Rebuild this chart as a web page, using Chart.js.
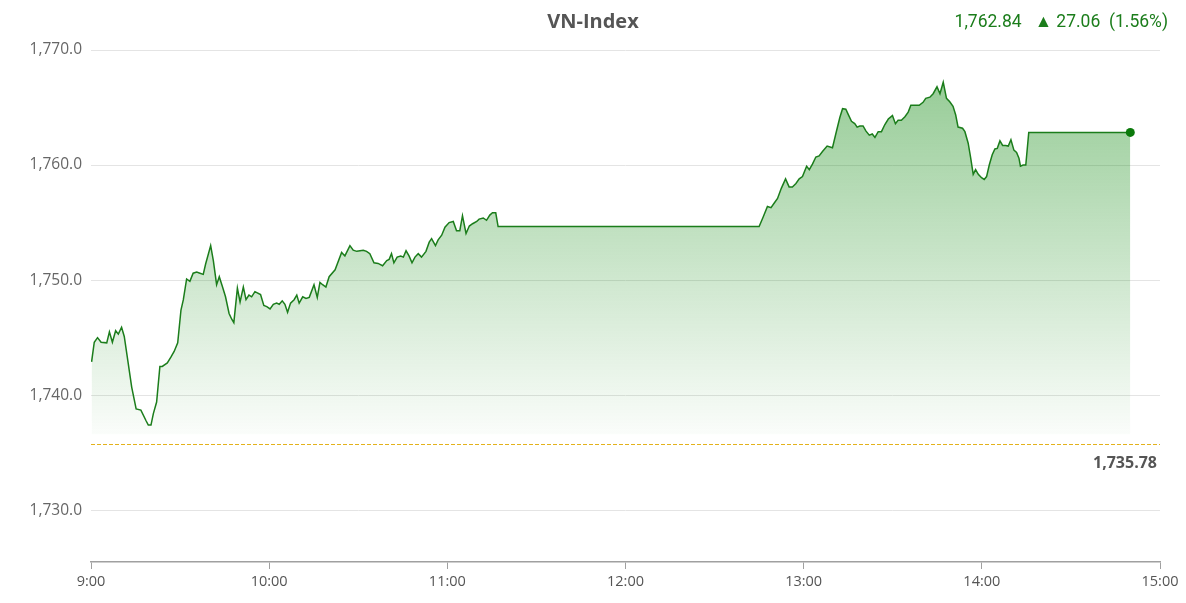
<!DOCTYPE html>
<html>
<head>
<meta charset="utf-8">
<title>VN-Index</title>
<script src="https://cdn.jsdelivr.net/npm/chart.js@4"></script>
<style>
  html, body { margin: 0; padding: 0; background: #fff; }
  #wrap { position: relative; width: 1186px; height: 603px; }
  #title {
    position: absolute; left: 0; width: 1186px; top: 7px; text-align: center;
    font: bold 20px "Open Sans", sans-serif; color: #555;
  }
  #stats {
    position: absolute; right: 18px; top: 11px;
    font: 17.5px Roboto, sans-serif; color: #1b7d1b; white-space: pre;
  }
</style>
</head>
<body>
<div id="wrap">
  <canvas id="chart" width="1186" height="603"></canvas>
  <div id="title">VN-Index</div>
  <div id="stats">1,762.84   ▲ 27.06  (1.56%)</div>
</div>
<script>
// minutes after 9:00
const minutes = [
  0.2, 1.1, 2.2, 3.4, 5.3, 6.2, 7.2, 8.3, 9.2, 10.3, 11.2, 12.4, 13.7, 15.2, 16.8,
  18.5, 19.3, 20.2, 21.0, 22.1, 23.2, 24.0, 25.7, 26.9, 28.0, 29.2, 30.3, 31.1, 32.2,
  33.3, 34.4, 35.6, 36.7, 37.8, 38.6, 40.3, 41.2, 42.3, 43.2, 44.3, 45.3, 46.5, 47.4,
  48.1, 49.3, 50.2, 51.3, 52.2, 53.2, 54.1, 55.2, 57.1, 58.2, 59.2, 60.3, 61.4, 62.5,
  63.4, 64.4, 65.3, 66.2, 67.2, 68.4, 69.3, 70.1, 71.3, 72.4, 73.5, 75.1, 76.2, 77.1,
  78.0, 79.1, 80.2, 82.2, 84.4, 85.5, 87.2, 88.3, 89.5, 90.6, 91.7, 92.8, 93.9, 95.3,
  96.7, 98.2, 99.6, 100.4, 101.2, 102.0, 103.1, 104.3, 105.2, 106.1, 107.1, 108.1,
  109.1, 110.2, 111.3, 112.8, 113.9, 114.7, 116.0, 116.9, 118.1, 119.2, 120.6, 122.0,
  123.1, 124.2, 125.1, 126.3, 127.4, 128.5, 129.9, 130.7, 132.1, 133.2, 134.3, 135.2,
  136.3, 137.1, 225.0, 226.4, 227.8, 229.0, 230.1, 231.2, 232.5, 233.9, 235.1, 236.2,
  237.4, 238.5, 239.6, 241.0, 241.9, 243.0, 244.1, 245.2, 246.4, 247.9, 249.7, 251.1,
  252.2, 253.1, 254.2, 255.0, 256.1, 257.2, 258.0, 258.9, 260.0, 261.0, 262.1, 263.1,
  264.0, 265.1, 266.2, 267.3, 268.5, 269.9, 270.9, 271.8, 272.9, 274.1, 275.2, 276.1,
  277.4, 278.9, 280.2, 281.1, 282.5, 283.6, 284.9, 285.9, 287.0, 288.1, 289.2, 290.3,
  291.2, 292.0, 293.5, 294.3, 295.4, 296.2, 297.1, 297.9, 298.8, 299.9, 300.8, 301.6,
  302.5, 303.5, 304.4, 305.2, 306.1, 307.0, 308.0, 308.9, 309.8, 310.8, 311.7, 312.5,
  313.0, 313.9, 314.8, 315.8, 350.0
];

const values = [
  1742.9, 1744.6, 1745.0, 1744.6, 1744.55, 1745.5, 1744.6, 1745.6, 1745.3, 1745.9, 1745.1,
  1743.0, 1740.7, 1738.8, 1738.7, 1737.8, 1737.4, 1737.4, 1738.4, 1739.4, 1742.5, 1742.5,
  1742.8, 1743.3, 1743.8, 1744.55, 1747.4, 1748.3, 1750.1, 1749.9, 1750.6, 1750.7, 1750.6,
  1750.5, 1751.4, 1753.0, 1751.7, 1749.6, 1750.3, 1749.4, 1748.55, 1747.1, 1746.6, 1746.3,
  1749.3, 1748.1, 1749.4, 1748.3, 1748.7, 1748.55, 1749.0, 1748.75, 1747.8, 1747.7, 1747.5,
  1747.9, 1748.0, 1747.9, 1748.2, 1747.9, 1747.2, 1748.0, 1748.3, 1748.7, 1748.0, 1748.55,
  1748.4, 1748.5, 1749.6, 1748.5, 1749.8, 1749.6, 1749.4, 1750.3, 1750.9, 1752.4, 1752.1,
  1753.0, 1752.6, 1752.5, 1752.55, 1752.6, 1752.5, 1752.3, 1751.5, 1751.45, 1751.25, 1751.7,
  1751.8, 1752.3, 1751.5, 1752.0, 1752.1, 1752.0, 1752.55, 1752.1, 1751.5, 1752.0, 1752.3,
  1752.0, 1752.5, 1753.3, 1753.6, 1753.0, 1753.5, 1753.9, 1754.6, 1755.0, 1755.1, 1754.3,
  1754.3, 1755.6, 1754.05, 1754.7, 1754.9, 1755.1, 1755.3, 1755.4, 1755.2, 1755.65, 1755.85,
  1755.85, 1754.65, 1754.65, 1755.5, 1756.4, 1756.3, 1756.7, 1757.1, 1758.0, 1758.8, 1758.1,
  1758.1, 1758.4, 1758.8, 1759.0, 1759.9, 1759.6, 1760.1, 1760.7, 1760.8, 1761.2, 1761.65,
  1761.5, 1763.0, 1764.15, 1764.9, 1764.85, 1764.4, 1763.8, 1763.6, 1763.3, 1763.4, 1763.4,
  1762.95, 1762.6, 1762.7, 1762.4, 1762.9, 1762.9, 1763.5, 1764.0, 1764.3, 1763.6, 1763.9,
  1763.9, 1764.2, 1764.6, 1765.2, 1765.2, 1765.2, 1765.45, 1765.8, 1765.9, 1766.2, 1766.8,
  1766.2, 1767.2, 1765.8, 1765.5, 1765.1, 1764.35, 1763.3, 1763.2, 1762.9, 1761.9, 1760.7,
  1759.2, 1759.6, 1759.2, 1758.9, 1758.75, 1759.0, 1760.0, 1760.9, 1761.4, 1761.45, 1762.1,
  1761.7, 1761.7, 1761.65, 1762.2, 1761.3, 1761.1, 1760.6, 1759.9, 1760.0, 1760.0, 1762.84,
  1762.84
];

const yTicks = [1730, 1740, 1750, 1760, 1770];
const xTicks = [0, 60, 120, 180, 240, 300, 360];
const xTickLabels = ['9:00', '10:00', '11:00', '12:00', '13:00', '14:00', '15:00'];
const PREV_CLOSE = 1735.78;

const GREEN = '#1b7d1b';

// dashed reference line for previous close + its label
const refLinePlugin = {
  id: 'refLine',
  afterDatasetsDraw(chart) {
    const { ctx, chartArea, scales } = chart;
    const y = Math.round(scales.y.getPixelForValue(PREV_CLOSE)) + 0.5;
    ctx.save();
    ctx.strokeStyle = '#e3b21c';
    ctx.lineWidth = 1;
    ctx.setLineDash([4, 2]);
    ctx.beginPath();
    ctx.moveTo(chartArea.left, y);
    ctx.lineTo(chartArea.right, y);
    ctx.stroke();
    ctx.setLineDash([]);
    ctx.fillStyle = '#555';
    ctx.font = 'bold 16px "Open Sans", sans-serif';
    ctx.textAlign = 'right';
    ctx.textBaseline = 'middle';
    ctx.fillText(PREV_CLOSE.toLocaleString('en-US', { minimumFractionDigits: 2 }), chartArea.right - 3, y + 19);
    ctx.restore();
  }
};

const ctx = document.getElementById('chart').getContext('2d');
const chart = new Chart(ctx, {
  type: 'line',
  data: {
    datasets: [{
      data: minutes.map((m, i) => ({ x: m, y: values[i] })),
      borderColor: GREEN,
      borderWidth: 1.5,
      tension: 0,
      fill: { value: 1736.6 },
      backgroundColor: (c) => {
        const area = c.chart.chartArea;
        if (!area) return 'rgba(27,140,27,0.3)';
        const yb = c.chart.scales.y.getPixelForValue(1736.6);
        const g = c.chart.ctx.createLinearGradient(0, area.top, 0, yb);
        g.addColorStop(0, 'rgba(20,140,20,0.48)');
        g.addColorStop(1, 'rgba(20,140,20,0.02)');
        return g;
      },
      pointRadius: (c) => c.dataIndex === minutes.length - 1 ? 4.5 : 0,
      pointBackgroundColor: '#0b7a0b',
      pointBorderWidth: 0
    }]
  },
  options: {
    responsive: false,
    animation: false,
    layout: { padding: { top: 50, right: 26, left: 0, bottom: 0 } },
    plugins: { legend: { display: false }, tooltip: { enabled: false } },
    scales: {
      x: {
        type: 'linear',
        min: 0,
        max: 360,
        afterBuildTicks: (s) => { s.ticks = xTicks.map(v => ({ value: v })); },
        afterFit: (s) => { s.height = 41; },
        ticks: {
          padding: 4,
          maxRotation: 0,
          color: '#555',
          font: { family: 'Open Sans', size: 14.5 },
          callback: (v) => xTickLabels[xTicks.indexOf(v)]
        },
        grid: { drawOnChartArea: false, drawTicks: true, tickLength: 7, color: '#a0a0a0' },
        border: { display: true, color: '#a0a0a0', width: 1.5 }
      },
      y: {
        min: 1725.5,
        max: 1770,
        afterBuildTicks: (s) => { s.ticks = yTicks.map(v => ({ value: v })); },
        afterFit: (s) => { s.width = 91; },
        ticks: {
          padding: 9,
          color: '#666',
          font: { family: 'Open Sans', size: 15.5 },
          callback: (v) => v.toLocaleString('en-US', { minimumFractionDigits: 1, maximumFractionDigits: 1 })
        },
        grid: { color: '#e4e4e4', lineWidth: 1, drawTicks: false },
        border: { display: false }
      }
    }
  },
  plugins: [refLinePlugin]
});
</script>
</body>
</html>
